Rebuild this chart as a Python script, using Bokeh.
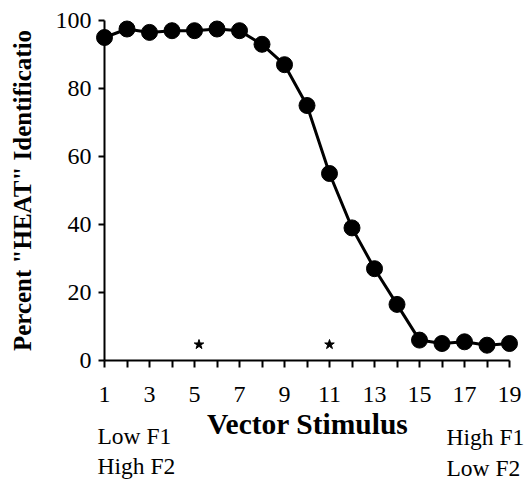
import math
from bokeh.plotting import figure
from bokeh.models import FixedTicker, Range1d, Label, ColumnDataSource, LinearAxis, Grid
from bokeh.embed import file_html
from bokeh.resources import INLINE

# data
stimulus = list(range(1, 20))
percent_heat = [95, 97.5, 96.5, 97, 97, 97.5, 97, 93, 87, 75, 55, 39, 27, 16.5, 6, 5, 5.5, 4.5, 5]
star_x = [5.2, 11]
star_y = [4.7, 4.7]
x_major_ticks = [1, 3, 5, 7, 9, 11, 13, 15, 17, 19]
x_minor_ticks = [2, 4, 6, 8, 10, 12, 14, 16, 18]
y_ticks = [0, 20, 40, 60, 80, 100]

FONT = "Liberation Serif"
W, H = 525, 483
XPX = 22.5   # px per stimulus step
YPX = 3.4    # px per percent
X0, Y0 = 104, 360  # canvas position of (1, 0)

xs = 1 - X0 / XPX
ys = -(H - Y0) / YPX
p = figure(width=W, height=H, output_backend="svg", toolbar_location=None, title=None,
           x_range=Range1d(xs, xs + W / XPX), y_range=Range1d(ys, ys + H / YPX),
           x_axis_location=None, y_axis_location=None,
           min_border_left=0, min_border_right=0, min_border_top=0, min_border_bottom=0)
p.outline_line_color = None
p.background_fill_color = "white"
p.border_fill_color = "white"
p.center = [r for r in p.center if not isinstance(r, Grid)]

src = ColumnDataSource(dict(x=stimulus, y=percent_heat))
p.line("x", "y", source=src, line_color="black", line_width=3)
p.scatter("x", "y", source=src, marker="circle", size=16, color="black")
p.scatter(star_x, star_y, marker="star", size=10, color="black")

# x axis
xa = LinearAxis(fixed_location=0)
xa.ticker = FixedTicker(ticks=x_major_ticks, minor_ticks=x_minor_ticks)
xa.bounds = (1, 19)
xa.axis_line_width = 2
xa.major_tick_line_width = 2
xa.minor_tick_line_width = 2
xa.major_tick_in = 0
xa.major_tick_out = 7
xa.minor_tick_in = 0
xa.minor_tick_out = 7
xa.major_label_text_font = FONT
xa.major_label_text_font_size = "24px"
xa.major_label_text_color = "black"
xa.major_label_standoff = 19
p.add_layout(xa, "below")

# y axis
ya = LinearAxis(fixed_location=1)
ya.ticker = FixedTicker(ticks=y_ticks, minor_ticks=[])
ya.bounds = (0, 100)
ya.axis_line_width = 2
ya.major_tick_line_width = 2
ya.major_tick_in = 0
ya.major_tick_out = 6
ya.minor_tick_out = 0
ya.minor_tick_in = 0
ya.major_label_text_font = FONT
ya.major_label_text_font_size = "24px"
ya.major_label_text_color = "black"
ya.major_label_standoff = 7
p.add_layout(ya, "left")

# axis titles
p.add_layout(Label(x=10.03, y=-(423 - Y0) / YPX, text="Vector Stimulus", text_font=FONT,
                   text_font_size="29.5px", text_font_style="bold", text_color="black",
                   text_align="center", text_baseline="middle"))
p.add_layout(Label(x=1 - 82 / XPX, y=(Y0 - 190) / YPX, text="Percent \"HEAT\" Identificatio",
                   text_font=FONT, text_font_size="25px", text_font_style="bold",
                   text_color="black", angle=math.pi / 2,
                   text_align="center", text_baseline="middle"))

for txt, xpix, mid in [("Low F1", 97, 435.5), ("High F2", 97, 465),
                       ("High F1", 446, 436.5), ("Low F2", 446, 467)]:
    p.add_layout(Label(x=1 + (xpix - X0) / XPX, y=-(mid - Y0) / YPX, text=txt,
                       text_font=FONT, text_font_size="23.5px", text_color="black",
                       text_align="left", text_baseline="middle"))

open("out.html", "w").write(file_html(p, INLINE))
